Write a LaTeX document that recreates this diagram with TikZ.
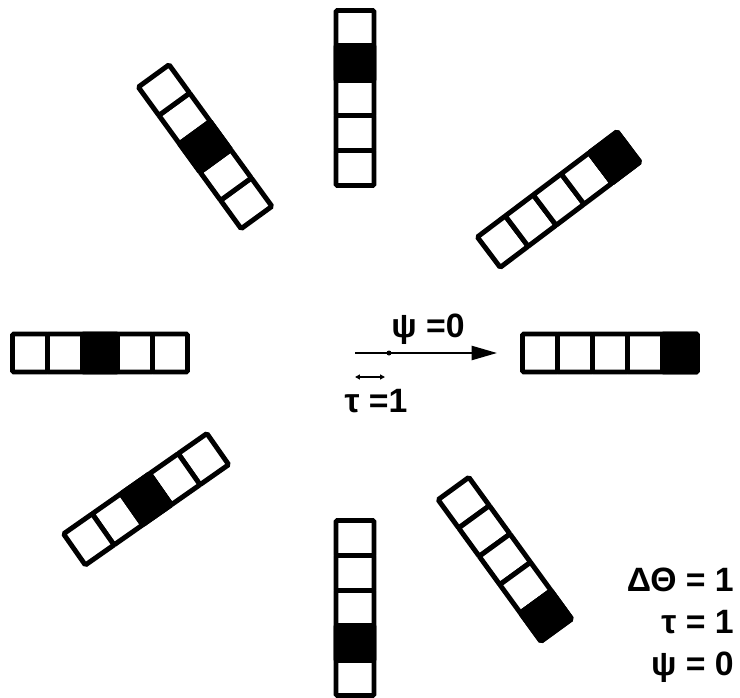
\documentclass[tikz,border=0pt]{standalone}
\usepackage{fontspec}
\setmainfont{Liberation Sans}
\usetikzlibrary{arrows.meta}

\tikzset{
    cell/.style={draw, line width=3.5pt, rounded corners=1pt, fill=white},
    lbl/.style={font=\fontsize{24}{28}\selectfont\bfseries, inner sep=0pt}
}

\begin{document}
\begin{tikzpicture}[x=0.025cm, y=0.025cm]
    \useasboundingbox (-355,-344) rectangle (385,353);

    % --- Bars: five cells each, one cell black ---
    \foreach \ang/\blk in {0/5, 37/5, 90/4, 126/3, 180/3, 215/3, 270/4, 306/5} {
        \begin{scope}[rotate=\ang]
            \foreach \i in {1,...,5}
                \draw[cell] ({132.5+35*\i}, -19) rectangle ++(35, 38);
            \draw[cell, fill=black] ({132.5+35*\blk}, -19) rectangle ++(35, 38);
        \end{scope}
    }

    % --- Coordinates ---
    \coordinate (a0) at (0, 0);    % start of arrow
    \coordinate (a1) at (142, 0);  % tip of arrow
    \coordinate (tk) at (34, 0);   % one step along
    \coordinate (t0) at (0, -24);
    \coordinate (t1) at (30, -24);

    % --- Arrow and step ---
    \draw[line width=1.5pt, -{Triangle[length=18pt, width=10pt]}] (a0) -- (a1);
    \fill (tk) circle (2.5);
    \draw[line width=1.2pt, {Triangle[length=3.5pt, width=3.5pt]}-{Triangle[length=3.5pt, width=3.5pt]}] (t0) -- (t1);

    \node[lbl, anchor=base] (psi) at (73, 16) {ψ =0};
    \node[lbl, anchor=base] (tau) at (21, -59) {τ =1};

    % --- Parameters ---
    \node[lbl, anchor=base east] (pdth) at (379, -238) {ΔΘ = 1};
    \node[lbl, anchor=base east] (ptau) at (379, -280) {τ = 1};
    \node[lbl, anchor=base east] (ppsi) at (379, -322) {ψ = 0};

\end{tikzpicture}
\end{document}
